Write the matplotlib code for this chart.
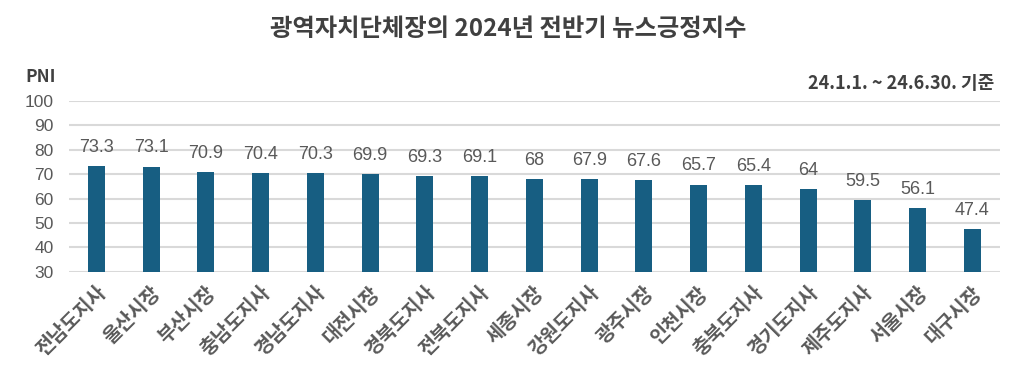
import matplotlib.pyplot as plt
import numpy as np

plt.rcParams['font.family'] = ['Noto Sans CJK KR', 'DejaVu Sans']

# data
names = ['전남도지사', '울산시장', '부산시장', '충남도지사', '경남도지사', '대전시장',
         '경북도지사', '전북도지사', '세종시장', '강원도지사', '광주시장', '인천시장',
         '충북도지사', '경기도지사', '제주도지사', '서울시장', '대구시장']
pni = [73.3, 73.1, 70.9, 70.4, 70.3, 69.9, 69.3, 69.1, 68, 67.9, 67.6, 65.7,
       65.4, 64, 59.5, 56.1, 47.4]
labels = ['73.3', '73.1', '70.9', '70.4', '70.3', '69.9', '69.3', '69.1', '68',
          '67.9', '67.6', '65.7', '65.4', '64', '59.5', '56.1', '47.4']
yticks = [30, 40, 50, 60, 70, 80, 90, 100]

bar_col = '#175E82'
txt_col = '#595959'

fig = plt.figure(figsize=(10.16, 3.84), dpi=100)
ax = fig.add_axes([0.068, 0.292, 0.916, 0.445])

x = np.arange(len(names))
ax.bar(x, [v - 30 for v in pni], bottom=30, width=0.31, color=bar_col, zorder=3)
for xi, v, s in zip(x, pni, labels):
    ax.text(xi, v + 4.2, s, ha='center', va='bottom', fontsize=13,
            color=txt_col, family=['Liberation Sans', 'DejaVu Sans'])

ax.set_xlim(-0.5, len(names) - 0.5)
ax.set_ylim(30, 100)
ax.set_yticks(yticks)
ax.set_yticklabels([str(t) for t in yticks], fontsize=12.5, color=txt_col,
                   family=['Liberation Sans', 'DejaVu Sans'])
ax.grid(axis='y', color='#D9D9D9', lw=1.5, zorder=0)
ax.tick_params(axis='both', length=0)
ax.tick_params(axis='y', pad=11)
for sp in ax.spines.values():
    sp.set_visible(False)

ax.set_xticks(x)
ax.set_xticklabels(names, rotation=45, ha='right', rotation_mode='anchor',
                   fontsize=14, color=txt_col, fontweight='bold')
ax.tick_params(axis='x', pad=8)

fig.text(0.5, 0.925, '광역자치단체장의 2024년 전반기 뉴스긍정지수', ha='center', va='center',
         fontsize=17.5, fontweight='bold', color='#404040')
fig.text(0.025, 0.80, 'PNI', ha='left', va='center', fontsize=12.5,
         fontweight='bold', color='#404040')
fig.text(0.979, 0.782, '24.1.1. ~ 24.6.30. 기준', ha='right', va='center',
         fontsize=13, fontweight='bold', color='#404040')

plt.savefig('out.png', dpi=100)
